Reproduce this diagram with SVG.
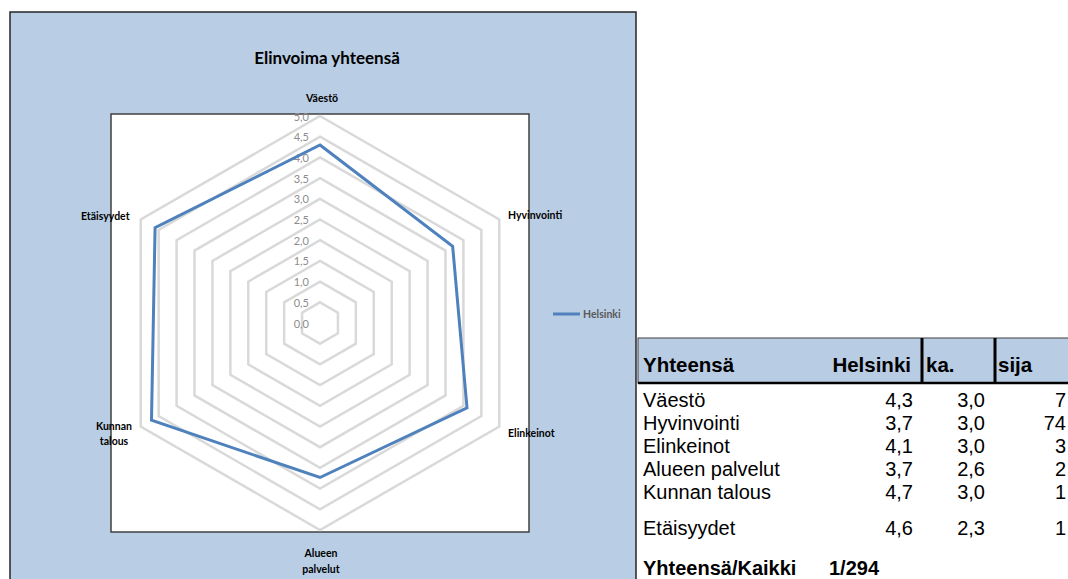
<svg xmlns="http://www.w3.org/2000/svg" width="1068" height="579" viewBox="0 0 1068 579">
<style>
.grid{fill:none;stroke:#d9d9d9;stroke-width:2.5}
.tick{font-family:Lato,"Open Sans",sans-serif;font-size:11px;fill:#8c8c8c;text-anchor:end;dominant-baseline:central}
.ax{font-family:Lato,"Open Sans",sans-serif;font-size:10.5px;font-weight:bold;fill:#000;dominant-baseline:central}
.th{font-family:"Liberation Sans",Arial,sans-serif;font-size:20.5px;font-weight:bold;fill:#000}
.td{font-family:"Liberation Sans",Arial,sans-serif;font-size:20px;fill:#000}
.num{text-anchor:end}
</style>
<rect x="0" y="0" width="1068" height="579" fill="#fff"/>
<g id="chart-panel">
<rect x="10" y="12" width="626" height="580" fill="#b9cde5" stroke="#262626" stroke-width="1.5"/>
<text x="327" y="57" font-family="Lato,'Open Sans',sans-serif" font-size="17" font-weight="bold" text-anchor="middle" dominant-baseline="central" fill="#000">Elinvoima yhteensä</text>
</g>
<g id="plot-area">
<rect x="111" y="114" width="418" height="418" fill="#fff" stroke="#404040" stroke-width="1.5"/>
</g>
<g id="grid">
<polygon class="grid" points="320,302.3 337.93,312.65 337.93,333.35 320,343.7 302.07,333.35 302.07,312.65"/>
<polygon class="grid" points="320,281.6 355.85,302.3 355.85,343.7 320,364.4 284.15,343.7 284.15,302.3"/>
<polygon class="grid" points="320,260.9 373.78,291.95 373.78,354.05 320,385.1 266.22,354.05 266.22,291.95"/>
<polygon class="grid" points="320,240.2 391.71,281.6 391.71,364.4 320,405.8 248.29,364.4 248.29,281.6"/>
<polygon class="grid" points="320,219.5 409.63,271.25 409.63,374.75 320,426.5 230.37,374.75 230.37,271.25"/>
<polygon class="grid" points="320,198.8 427.56,260.9 427.56,385.1 320,447.2 212.44,385.1 212.44,260.9"/>
<polygon class="grid" points="320,178.1 445.49,250.55 445.49,395.45 320,467.9 194.51,395.45 194.51,250.55"/>
<polygon class="grid" points="320,157.4 463.41,240.2 463.41,405.8 320,488.6 176.59,405.8 176.59,240.2"/>
<polygon class="grid" points="320,136.7 481.34,229.85 481.34,416.15 320,509.3 158.66,416.15 158.66,229.85"/>
<polygon class="grid" points="320,116 499.27,219.5 499.27,426.5 320,530 140.73,426.5 140.73,219.5"/>
</g>
<g id="ticks">
<text class="tick" x="309" y="323">0,0</text>
<text class="tick" x="309" y="302.3">0,5</text>
<text class="tick" x="309" y="281.6">1,0</text>
<text class="tick" x="309" y="260.9">1,5</text>
<text class="tick" x="309" y="240.2">2,0</text>
<text class="tick" x="309" y="219.5">2,5</text>
<text class="tick" x="309" y="198.8">3,0</text>
<text class="tick" x="309" y="178.1">3,5</text>
<text class="tick" x="309" y="157.4">4,0</text>
<text class="tick" x="309" y="136.7">4,5</text>
<text class="tick" x="309" y="116">5,0</text>
</g>
<g id="series-helsinki">
<polygon points="320,144.98 452.66,246.41 467,407.87 320,477.5 151.49,420.29 155.07,227.78" fill="none" stroke="#4f81bd" stroke-width="3" stroke-linejoin="miter"/>
</g>
<g id="axis-labels">
<text class="ax" x="322" y="98" text-anchor="middle">Väestö</text>
<text class="ax" x="508" y="215">Hyvinvointi</text>
<text class="ax" x="508" y="433">Elinkeinot</text>
<text class="ax" x="321" y="553" text-anchor="middle">Alueen</text>
<text class="ax" x="321" y="569" text-anchor="middle">palvelut</text>
<text class="ax" x="114" y="426" text-anchor="middle">Kunnan</text>
<text class="ax" x="114" y="441" text-anchor="middle">talous</text>
<text class="ax" x="81" y="216">Etäisyydet</text>
</g>
<g id="legend">
<line x1="553" y1="314" x2="580" y2="314" stroke="#4f81bd" stroke-width="3"/>
<text class="ax" x="583" y="314" style="fill:#595959">Helsinki</text>
</g>
<g id="table">
<rect x="638" y="338" width="440" height="45" fill="#b8cce4" stroke="#404040" stroke-width="1"/>
<line x1="638" y1="383" x2="1068" y2="383" stroke="#000" stroke-width="2.5"/>
<line x1="922" y1="338" x2="922" y2="384" stroke="#000" stroke-width="3"/>
<line x1="995" y1="338" x2="995" y2="384" stroke="#000" stroke-width="3"/>
<text class="th" x="643" y="372">Yhteensä</text>
<text class="th num" x="911" y="372">Helsinki</text>
<text class="th" x="926" y="372">ka.</text>
<text class="th" x="998" y="372">sija</text>
<text class="td" x="643" y="407">Väestö</text>
<text class="td num" x="913" y="407">4,3</text>
<text class="td num" x="985" y="407">3,0</text>
<text class="td num" x="1066" y="407">7</text>
<text class="td" x="643" y="430">Hyvinvointi</text>
<text class="td num" x="913" y="430">3,7</text>
<text class="td num" x="985" y="430">3,0</text>
<text class="td num" x="1066" y="430">74</text>
<text class="td" x="643" y="453">Elinkeinot</text>
<text class="td num" x="913" y="453">4,1</text>
<text class="td num" x="985" y="453">3,0</text>
<text class="td num" x="1066" y="453">3</text>
<text class="td" x="643" y="476">Alueen palvelut</text>
<text class="td num" x="913" y="476">3,7</text>
<text class="td num" x="985" y="476">2,6</text>
<text class="td num" x="1066" y="476">2</text>
<text class="td" x="643" y="499">Kunnan talous</text>
<text class="td num" x="913" y="499">4,7</text>
<text class="td num" x="985" y="499">3,0</text>
<text class="td num" x="1066" y="499">1</text>
<text class="td" x="643" y="535">Etäisyydet</text>
<text class="td num" x="913" y="535">4,6</text>
<text class="td num" x="985" y="535">2,3</text>
<text class="td num" x="1066" y="535">1</text>
<text class="th" x="643" y="575" style="font-size:20px">Yhteensä/Kaikki</text>
<text class="th" x="829" y="575" style="font-size:20px">1/294</text>
</g>
</svg>
